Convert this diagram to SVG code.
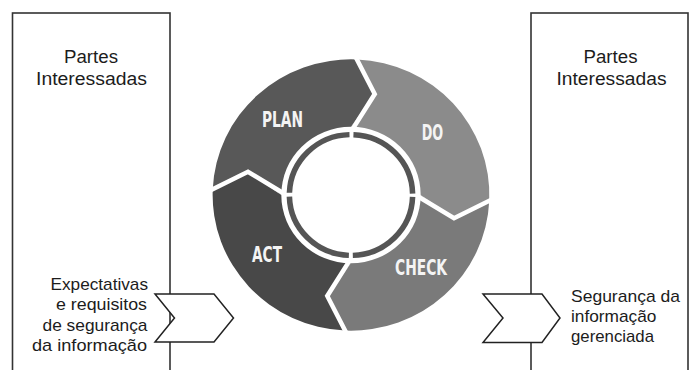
<svg xmlns="http://www.w3.org/2000/svg" xmlns:xlink="http://www.w3.org/1999/xlink" width="697" height="370" viewBox="0 0 697 370">
  <style>
    .box { fill: #ffffff; stroke: #333333; stroke-width: 1.6; }
    .chev { fill: #ffffff; stroke: #222222; stroke-width: 1.5; stroke-linejoin: miter; }
    .txt { font-family: "Liberation Sans", Arial, sans-serif; font-size: 17px; fill: #1c1c1c; }
    .head { font-family: "Liberation Sans", Arial, sans-serif; font-size: 17.5px; fill: #1c1c1c; text-anchor: middle; }
    .lbl { font-family: "DejaVu Sans Condensed", "Liberation Sans Narrow", sans-serif; font-weight: bold; font-size: 22px; fill: #f4f4f4; text-anchor: middle; }
    .sep { fill: none; stroke: #ffffff; stroke-width: 4.5; stroke-linejoin: miter; stroke-miterlimit: 10; }
    .ring { fill: none; stroke: #555555; stroke-width: 5.5; stroke-dasharray: 91.82 4; stroke-dashoffset: 93.82; }
  </style>
  <defs>
    <path id="seg" d="M 0,-69 L 23.5,-102 L 5.98,-136.87 A 137 137 0 0 1 136.87,5.98 L 102,23.5 L 69,0 A 69 69 0 0 0 0,-69 Z"/>
    <polyline id="sepline" points="0,-64 23.5,-102 4.6,-139.5"/>
  </defs>

  <rect width="697" height="370" fill="#ffffff"/>

  <g id="stakeholders-left">
    <rect class="box" x="12.5" y="13" width="157.5" height="380"/>
    <text class="head" x="91" y="63" textLength="54" lengthAdjust="spacingAndGlyphs">Partes</text>
    <text class="head" x="91.5" y="85" textLength="111" lengthAdjust="spacingAndGlyphs">Interessadas</text>
  </g>

  <g id="stakeholders-right">
    <rect class="box" x="531" y="13" width="157" height="380"/>
    <text class="head" x="610.5" y="63" textLength="54" lengthAdjust="spacingAndGlyphs">Partes</text>
    <text class="head" x="611.5" y="85" textLength="110" lengthAdjust="spacingAndGlyphs">Interessadas</text>
  </g>

  <g id="pdca">
    <g transform="translate(351,195) scale(1.01,0.99)">
      <use xlink:href="#seg" href="#seg" fill="#8b8b8b" id="seg-do"/>
      <use xlink:href="#seg" href="#seg" fill="#7a7a7a" transform="rotate(90)" id="seg-check"/>
      <use xlink:href="#seg" href="#seg" fill="#484848" transform="rotate(180)" id="seg-act"/>
      <use xlink:href="#seg" href="#seg" fill="#585858" transform="rotate(270)" id="seg-plan"/>
      <use xlink:href="#sepline" href="#sepline" class="sep"/>
      <use xlink:href="#sepline" href="#sepline" class="sep" transform="rotate(90)"/>
      <use xlink:href="#sepline" href="#sepline" class="sep" transform="rotate(180)"/>
      <use xlink:href="#sepline" href="#sepline" class="sep" transform="rotate(270)"/>
      <circle class="ring" cx="0" cy="0" r="61"/>
    </g>
    <text class="lbl" x="282.5" y="127" textLength="41" lengthAdjust="spacingAndGlyphs">PLAN</text>
    <text class="lbl" x="432.5" y="140" textLength="21.5" lengthAdjust="spacingAndGlyphs">DO</text>
    <text class="lbl" x="421" y="275" textLength="52" lengthAdjust="spacingAndGlyphs">CHECK</text>
    <text class="lbl" x="267" y="262" textLength="30" lengthAdjust="spacingAndGlyphs">ACT</text>
  </g>

  <g id="connectors">
    <polygon class="chev" points="155,294 214,294 233.5,318 214,342 155,342 174.5,318"/>
    <polygon class="chev" points="483,294 542,294 560,318 542,342.5 483,342.5 503,318"/>
  </g>

  <g id="input-label">
    <text class="txt" text-anchor="end" x="148" y="290" textLength="97.5" lengthAdjust="spacingAndGlyphs">Expectativas</text>
    <text class="txt" text-anchor="end" x="147" y="310" textLength="91" lengthAdjust="spacingAndGlyphs">e requisitos</text>
    <text class="txt" text-anchor="end" x="147.5" y="330.5" textLength="105" lengthAdjust="spacingAndGlyphs">de segurança</text>
    <text class="txt" text-anchor="end" x="147" y="351" textLength="115" lengthAdjust="spacingAndGlyphs">da informação</text>
  </g>

  <g id="output-label">
    <text class="txt" x="571" y="302" textLength="109" lengthAdjust="spacingAndGlyphs">Segurança da</text>
    <text class="txt" x="571" y="322" textLength="85.5" lengthAdjust="spacingAndGlyphs">informação</text>
    <text class="txt" x="571" y="342" textLength="83" lengthAdjust="spacingAndGlyphs">gerenciada</text>
  </g>
</svg>
